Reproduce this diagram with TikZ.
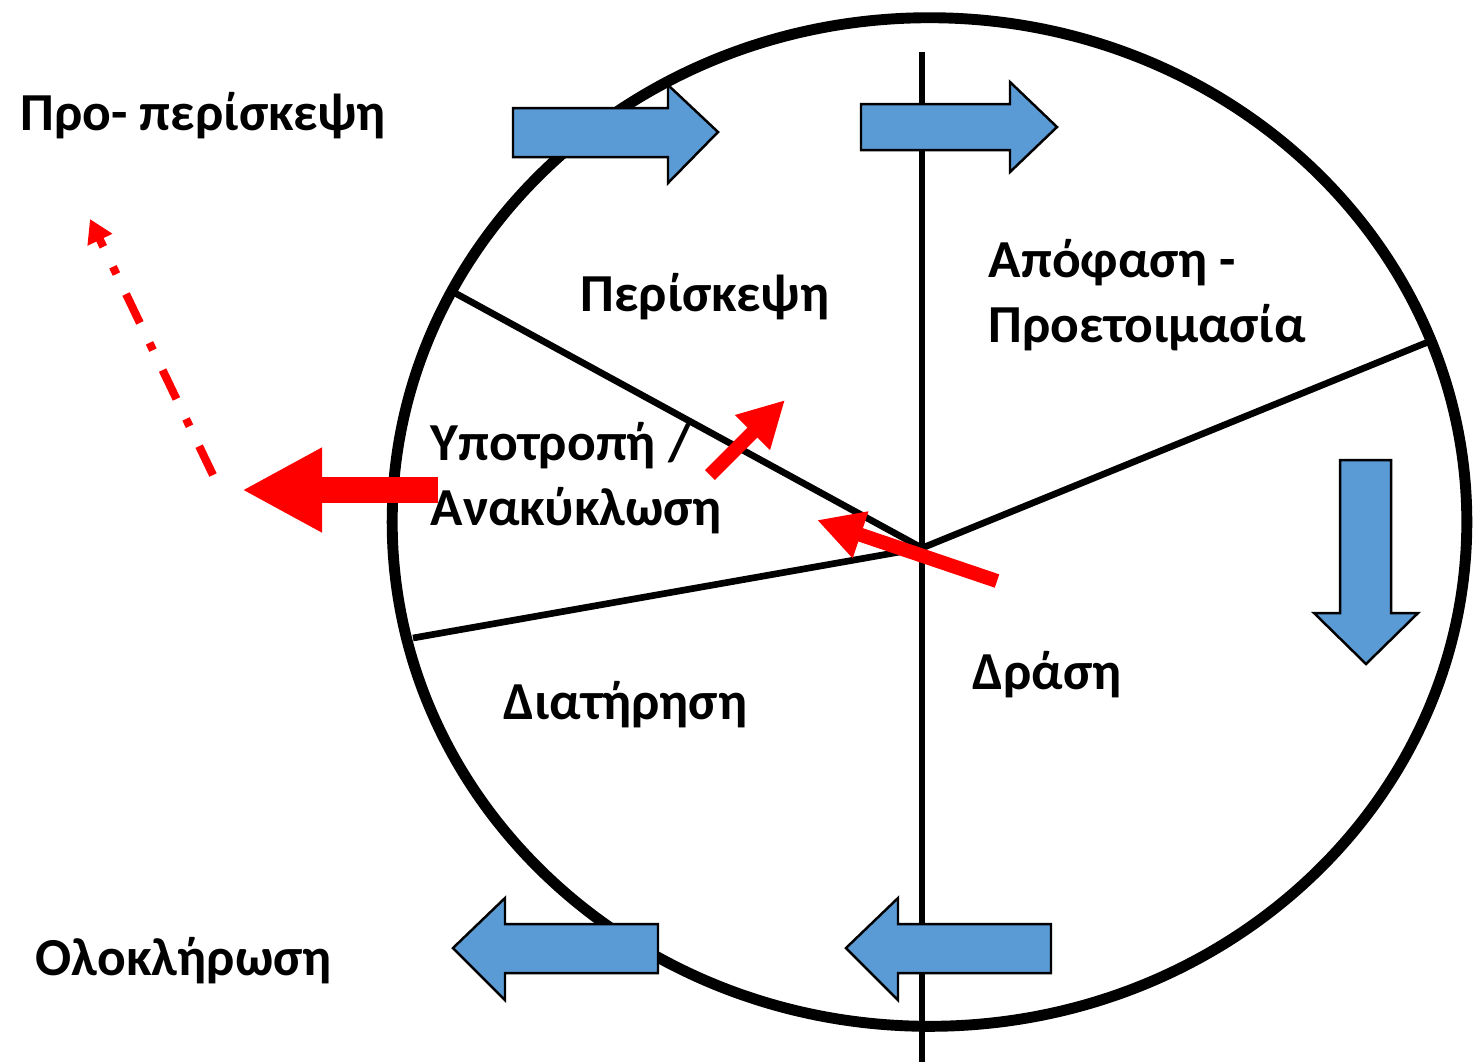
\documentclass[tikz,border=0pt]{standalone}
\usepackage{fontspec}
\setmainfont{Carlito}
\usetikzlibrary{arrows.meta}
\definecolor{arrowblue}{HTML}{5B9BD5}
\definecolor{cyclered}{HTML}{FF0000}
\tikzset{
    stage/.style={font=\fontsize{15.2}{18.4}\selectfont\bfseries, anchor=base west, inner sep=0pt, align=left},
    blockarrow/.style={fill=arrowblue, draw=black, line width=0.7pt, line join=miter},
    spoke/.style={line width=1.9pt},
    relapse/.style={cyclered, line width=4pt, -{Triangle[length=0.46cm,width=0.46cm]}},
}
\begin{document}
\begin{tikzpicture}[x=0.01cm, y=-0.01cm]
    \useasboundingbox (0,0) rectangle (1473,1062);
    % wheel
    \draw[line width=3.1pt] (929.5,522) ellipse [x radius=5.37cm, y radius=5.04cm];
    \coordinate (hub) at (922,548);
    \coordinate (rimUL) at (455,293);
    \coordinate (rimR) at (1428,342);
    \coordinate (rimLL) at (413,638);
    \coordinate (axisT) at (922,52);
    \coordinate (axisB) at (922,1062);
    \draw[spoke] (axisT) -- (axisB);
    \draw[spoke] (rimUL) -- (hub) -- (rimR);
    \draw[spoke] (hub) -- (rimLL);

    % blue block arrows
    \draw[blockarrow] (513,108) -- (668,108) -- (668,85) -- (718,132) -- (668,183) -- (668,157) -- (513,157) -- cycle;
    \draw[blockarrow] (861,104) -- (1010,104) -- (1010,82) -- (1057,127) -- (1010,172) -- (1010,150) -- (861,150) -- cycle;
    \draw[blockarrow] (1340,460) -- (1391,460) -- (1391,613) -- (1418,613) -- (1366,664) -- (1314,613) -- (1340,613) -- cycle;
    \draw[blockarrow] (1051,924) -- (898,924) -- (898,898) -- (846,948) -- (898,1000) -- (898,973) -- (1051,973) -- cycle;
    \draw[blockarrow] (658,924) -- (505,924) -- (505,898) -- (453,948) -- (505,1000) -- (505,973) -- (658,973) -- cycle;

    % red arrows
    \coordinate (exitS) at (438,490);
    \coordinate (exitE) at (242,490);
    \draw[cyclered, line width=7.4pt, -{Triangle[length=0.8cm,width=0.79cm]}] (exitS) -- (exitE);
    \coordinate (backS) at (213,475);
    \coordinate (backE) at (90,219);
    \draw[cyclered, line width=2.3pt, dash pattern=on 9.1pt off 6.3pt on 2.3pt off 6.3pt,
        -{Triangle[length=0.23cm,width=0.26cm]}] (backS) -- (backE);
    \coordinate (reS) at (710,475);
    \coordinate (reE) at (785,400);
    \draw[relapse] (reS) -- (reE);
    \coordinate (fallS) at (997,581);
    \coordinate (fallE) at (817,520);
    \draw[relapse] (fallS) -- (fallE);

    % labels
    \node[stage] (precontemplation) at (20,130) {Προ- περίσκεψη};
    \node[stage] (contemplation) at (580,311) {Περίσκεψη};
    \node[stage] (preparation) at (988,342) {Απόφαση -\\Προετοιμασία};
    \node[stage] (relapse) at (430,525) {Υποτροπή /\\Ανακύκλωση};
    \node[stage] (action) at (972,689) {Δράση};
    \node[stage] (maintenance) at (503,719) {Διατήρηση};
    \node[stage] (termination) at (35,975) {Ολοκλήρωση};
\end{tikzpicture}
\end{document}
